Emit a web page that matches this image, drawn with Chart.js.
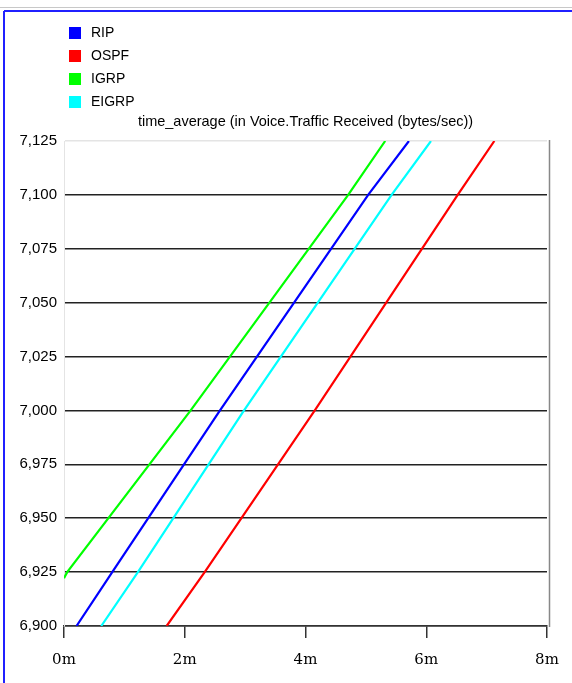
<!DOCTYPE html>
<html>
<head>
<meta charset="utf-8">
<script src="https://cdn.jsdelivr.net/npm/chart.js@4/dist/chart.umd.min.js"></script>
<style>
  html, body { margin: 0; padding: 0; background: #fff; }
  #wrap { width: 572px; height: 683px; position: relative; }
  canvas { display: block; }
</style>
</head>
<body>
<div id="wrap"><canvas id="c" width="572" height="683"></canvas></div>
<script>
// Series names and colours
const seriesNames = ['RIP', 'OSPF', 'IGRP', 'EIGRP'];
const seriesColors = ['#0000ff', '#ff0000', '#00ff00', '#00ffff'];

// Simulation time (minutes) and time-averaged voice traffic received (bytes/sec)
const ripTime    = [0.207, 0.799, 2.584, 5.038, 5.713];
const ripValue   = [6900, 6925, 7000, 7100, 7125];
const ospfTime   = [1.700, 2.330, 4.154, 6.521, 7.128];
const ospfValue  = [6900, 6925, 7000, 7100, 7125];
const igrpTime   = [0.0, 0.053, 2.098, 4.707, 5.320];
const igrpValue  = [6922.2, 6925, 7000, 7100, 7125];
const eigrpTime  = [0.617, 1.224, 2.982, 5.426, 6.078];
const eigrpValue = [6900, 6925, 7000, 7100, 7125];

// Axis ticks
const xTicks = [0, 2, 4, 6, 8];
const yTicks = [6900, 6925, 6950, 6975, 7000, 7025, 7050, 7075, 7100, 7125];

const chartTitle = 'time_average (in Voice.Traffic Received (bytes/sec))';

const pairs = (t, v) => t.map((x, i) => ({ x: x, y: v[i] }));
const seriesData = [
  pairs(ripTime, ripValue),
  pairs(ospfTime, ospfValue),
  pairs(igrpTime, igrpValue),
  pairs(eigrpTime, eigrpValue)
];

const SANS = '"Liberation Sans", Arial, sans-serif';

// Window frame, legend column, title and right border of the plot
const decorations = {
  id: 'decorations',
  beforeDraw(chart) {
    const ctx = chart.ctx;
    ctx.save();
    ctx.fillStyle = '#ffffff';
    ctx.fillRect(0, 0, chart.width, chart.height);
    ctx.restore();
  },
  afterDraw(chart) {
    const ctx = chart.ctx;
    const area = chart.chartArea;
    ctx.save();
    // frame lines
    ctx.strokeStyle = '#c8c8c8';
    ctx.lineWidth = 1;
    ctx.beginPath(); ctx.moveTo(0, 7.5); ctx.lineTo(chart.width, 7.5); ctx.stroke();
    ctx.strokeStyle = '#2020ff';
    ctx.lineWidth = 2;
    ctx.beginPath(); ctx.moveTo(4, 11); ctx.lineTo(chart.width, 11); ctx.stroke();
    ctx.beginPath(); ctx.moveTo(4, 11); ctx.lineTo(4, chart.height); ctx.stroke();

    // right border of the plot
    ctx.strokeStyle = '#888888';
    ctx.lineWidth = 1.5;
    ctx.beginPath(); ctx.moveTo(area.right + 2.5, area.top - 1); ctx.lineTo(area.right + 2.5, area.bottom + 1); ctx.stroke();

    // legend
    ctx.font = '14px ' + SANS;
    ctx.textBaseline = 'middle';
    ctx.textAlign = 'left';
    chart.data.datasets.forEach((ds, i) => {
      const cy = 33 + i * 23;
      ctx.fillStyle = ds.borderColor;
      ctx.fillRect(69, cy - 6, 12, 12);
      ctx.fillStyle = '#000';
      ctx.fillText(ds.label, 91, cy);
    });

    // title
    ctx.font = '14.5px ' + SANS;
    ctx.textAlign = 'center';
    ctx.fillStyle = '#000';
    ctx.fillText(chartTitle, (area.left + area.right) / 2, 122);
    ctx.restore();
  }
};

new Chart(document.getElementById('c'), {
  type: 'line',
  data: {
    datasets: seriesNames.map((name, i) => ({
      label: name,
      data: seriesData[i],
      borderColor: seriesColors[i],
      backgroundColor: seriesColors[i],
      borderWidth: 2.2,
      pointRadius: 0,
      tension: 0,
      fill: false
    }))
  },
  options: {
    responsive: false,
    devicePixelRatio: 1,
    animation: false,
    parsing: false,
    layout: { padding: { left: 0, right: 25, top: 141, bottom: 0 } },
    plugins: {
      legend: { display: false },
      title: { display: false },
      tooltip: { enabled: false }
    },
    scales: {
      x: {
        type: 'linear',
        min: 0,
        max: 8,
        afterFit(s) { s.height = 57; },
        afterBuildTicks(s) { s.ticks = xTicks.map(v => ({ value: v })); },
        ticks: {
          callback: v => v + 'm',
          font: { family: '"DejaVu Serif", serif', size: 15 },
          color: '#000',
          padding: 13,
          maxRotation: 0
        },
        grid: {
          drawOnChartArea: false,
          drawTicks: true,
          tickLength: 12,
          color: '#333',
          lineWidth: 1.5
        },
        border: { color: '#333', width: 1.5 }
      },
      y: {
        type: 'linear',
        min: 6900,
        max: 7125,
        afterFit(s) { s.width = 64; },
        afterBuildTicks(s) { s.ticks = yTicks.map(v => ({ value: v })); },
        ticks: {
          callback: v => v.toLocaleString('en-US'),
          font: { family: SANS, size: 15 },
          color: '#000',
          padding: 7
        },
        grid: {
          drawTicks: false,
          tickLength: 0,
          color: ctx => (ctx.tick && ctx.tick.value === 7125) ? '#e4e4e4' : '#222',
          lineWidth: 1.5
        },
        border: { color: '#e4e4e4', width: 1 }
      }
    }
  },
  plugins: [decorations]
});
</script>
</body>
</html>
